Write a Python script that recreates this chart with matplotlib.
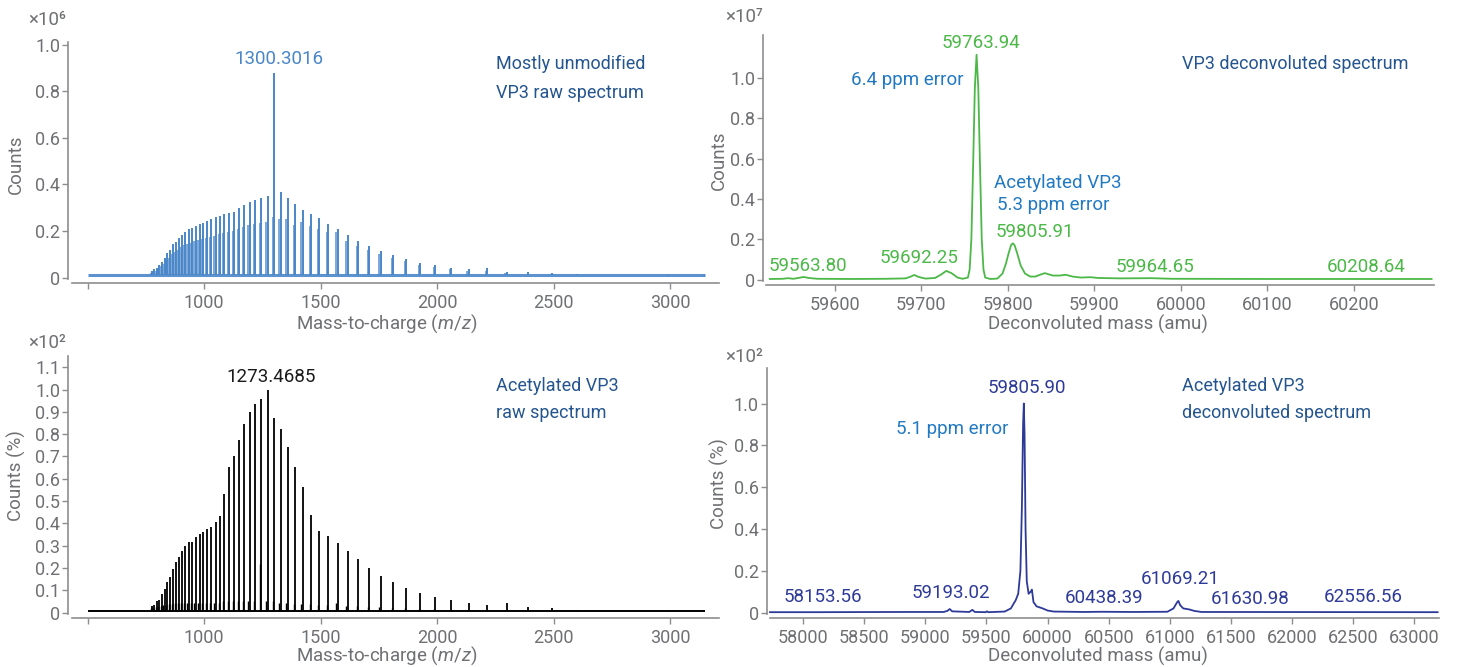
import matplotlib
matplotlib.use("Agg")
import matplotlib.pyplot as plt
import matplotlib.ticker as ticker

plt.rcParams.update({
    "font.family": ["Roboto", "DejaVu Sans"],
    "mathtext.fontset": "custom",
    "mathtext.rm": "Roboto",
    "mathtext.it": "Roboto:italic",
    "axes.spines.top": False,
    "axes.spines.right": False,
})

GREY = "#6f7073"
SPINE = "#8e8e90"
BLUE_LINE = "#4a86c8"
GREEN = "#4cb848"
NAVY = "#2e3a98"
NOTE_DARK = "#24558f"
NOTE_BLUE = "#2179c2"

# ─── Raw spectra: charge-state envelope (m/z positions, z = 77 ... 19) ──────
peak_mz = [777.2, 787.4, 797.9, 808.6, 819.7, 831.1, 842.7, 854.8, 867.1, 879.9,
           893.0, 906.5, 920.4, 934.8, 949.6, 964.9, 980.7, 997.1, 1014.0, 1031.4,
           1049.5, 1068.2, 1087.6, 1107.7, 1128.6, 1150.3, 1172.8, 1196.3, 1220.7, 1246.1,
           1272.6, 1300.2, 1329.1, 1359.3, 1390.9, 1424.0, 1458.7, 1495.1, 1533.4, 1573.7,
           1616.2, 1661.1, 1708.5, 1758.8, 1812.0, 1868.6, 1928.9, 1993.1, 2061.8, 2135.4,
           2214.5, 2299.6, 2391.6, 2491.2, 2599.4, 2717.5, 2846.9, 2989.2, 3146.5]

# mostly unmodified VP3 (x10^6 counts)
raw_top = [0.030, 0.035, 0.043, 0.054, 0.068, 0.083, 0.104, 0.118, 0.143, 0.154,
           0.171, 0.183, 0.197, 0.207, 0.211, 0.221, 0.230, 0.236, 0.244, 0.251,
           0.261, 0.264, 0.273, 0.276, 0.283, 0.300, 0.310, 0.326, 0.333, 0.340,
           0.350, 0.880, 0.366, 0.343, 0.314, 0.290, 0.273, 0.254, 0.232, 0.210,
           0.184, 0.155, 0.134, 0.112, 0.095, 0.078, 0.064, 0.052, 0.042, 0.035,
           0.042, 0.026, 0.022, 0.018, 0.015, 0.012, 0.010, 0.008, 0.006]

# acetylated VP3 (x10^2 %)
raw_bottom = [0.030, 0.035, 0.050, 0.056, 0.082, 0.106, 0.136, 0.161, 0.194, 0.225,
              0.251, 0.276, 0.299, 0.315, 0.318, 0.340, 0.352, 0.363, 0.375, 0.385,
              0.408, 0.435, 0.530, 0.651, 0.702, 0.774, 0.844, 0.898, 0.934, 0.956,
              1.000, 0.871, 0.822, 0.744, 0.654, 0.565, 0.438, 0.367, 0.343, 0.310,
              0.276, 0.240, 0.198, 0.166, 0.136, 0.109, 0.087, 0.070, 0.055, 0.044,
              0.033, 0.042, 0.025, 0.020, 0.012, 0.009, 0.006, 0.004, 0.003]

# minor series just below each main peak (z = 77 ... 26)
side_mz = [771.2, 781.4, 791.9, 802.6, 813.7, 825.1, 836.7, 848.8, 861.1, 873.9,
           887.0, 900.5, 914.4, 928.8, 943.6, 958.9, 974.7, 991.1, 1008.0, 1025.4,
           1043.5, 1062.2, 1081.6, 1101.7, 1122.6, 1144.3, 1166.8, 1190.3, 1214.7, 1240.1,
           1266.6, 1294.2, 1323.1, 1353.3, 1384.9, 1418.0, 1452.7, 1489.1, 1527.4, 1567.7,
           1610.2, 1655.1, 1702.5, 1752.8, 1806.0, 1862.6, 1922.9, 1987.1, 2055.8, 2129.4,
           2208.5, 2293.6]
side_top = [0.020, 0.025, 0.030, 0.040, 0.050, 0.060, 0.075, 0.085, 0.100, 0.110,
            0.120, 0.130, 0.140, 0.145, 0.150, 0.155, 0.160, 0.165, 0.170, 0.175,
            0.180, 0.185, 0.190, 0.195, 0.200, 0.210, 0.215, 0.225, 0.230, 0.235,
            0.240, 0.260, 0.250, 0.250, 0.226, 0.240, 0.220, 0.210, 0.195, 0.195,
            0.155, 0.135, 0.117, 0.100, 0.083, 0.070, 0.055, 0.047, 0.037, 0.030,
            0.030, 0.020]
side_bottom = [0.020, 0.020, 0.025, 0.030, 0.030, 0.035, 0.035, 0.040, 0.040, 0.045,
               0.045, 0.045, 0.045, 0.045, 0.045, 0.045, 0.045, 0.045, 0.045, 0.045,
               0.045, 0.045, 0.050, 0.050, 0.050, 0.050, 0.050, 0.050, 0.050, 0.220,
               0.050, 0.050, 0.045, 0.045, 0.040, 0.040, 0.040, 0.035, 0.035, 0.045,
               0.030, 0.030, 0.025, 0.025, 0.020, 0.020, 0.015, 0.015, 0.012, 0.010,
               0.010, 0.010]

raw_range = [500, 3150]
base_top = 0.011
base_bottom = 0.006

# ─── Deconvoluted spectra ───────────────────────────────────────────────────
dec_top_mass = [59525, 59540, 59546, 59552, 59558, 59564, 59570, 59580, 59620, 59660,
                59682, 59688, 59692, 59697, 59705, 59716, 59723, 59729, 59735, 59742,
                59748, 59754, 59756, 59758, 59760, 59762, 59764, 59766, 59768, 59770,
                59772, 59774, 59780, 59788, 59794, 59798, 59801, 59804, 59806, 59808,
                59811, 59815, 59820, 59826, 59832, 59836, 59843, 59852, 59860, 59867,
                59875, 59885, 59895, 59905, 59930, 59966, 59990, 60100, 60290]
dec_top_counts = [0.003, 0.004, 0.007, 0.004, 0.008, 0.013, 0.008, 0.004, 0.003, 0.004,
                  0.006, 0.015, 0.023, 0.013, 0.005, 0.008, 0.025, 0.043, 0.032, 0.010,
                  0.004, 0.010, 0.050, 0.200, 0.560, 0.950, 1.115, 0.950, 0.560, 0.200,
                  0.050, 0.010, 0.003, 0.005, 0.030, 0.080, 0.130, 0.172, 0.180, 0.170,
                  0.130, 0.070, 0.030, 0.015, 0.015, 0.022, 0.032, 0.020, 0.020, 0.024,
                  0.015, 0.010, 0.012, 0.008, 0.006, 0.007, 0.004, 0.003, 0.003]

dec_bot_mass = [57730, 58100, 58800, 59150, 59180, 59200, 59220, 59360, 59385, 59405,
                59495, 59505, 59515, 59650, 59700, 59740, 59760, 59778, 59790, 59800,
                59806, 59812, 59820, 59830, 59845, 59862, 59872, 59885, 59910, 59960,
                60000, 60050, 60300, 60440, 60700, 60980, 61030, 61060, 61070, 61085,
                61110, 61160, 61200, 61260, 63190]
dec_bot_counts = [0.002, 0.002, 0.003, 0.003, 0.008, 0.017, 0.006, 0.003, 0.013, 0.003,
                  0.002, 0.006, 0.002, 0.005, 0.020, 0.060, 0.090, 0.200, 0.500, 0.900,
                  1.000, 0.850, 0.400, 0.150, 0.090, 0.100, 0.110, 0.050, 0.030, 0.020,
                  0.010, 0.005, 0.003, 0.004, 0.003, 0.004, 0.020, 0.050, 0.056, 0.035,
                  0.020, 0.015, 0.008, 0.003, 0.002]

# peak labels: (text, x, y)
top_dec_labels = [("59563.80", 59568.8, 0.067), ("59692.25", 59696.9, 0.105),
                  ("59763.94", 59769.6, 1.171), ("59805.91", 59831.6, 0.236),
                  ("59964.65", 59970.3, 0.062), ("60208.64", 60214.2, 0.060)]
bot_dec_labels = [("58153.56", 58163.6, 0.077), ("59193.02", 59210.3, 0.096),
                  ("59805.90", 59828.6, 1.076), ("60438.39", 60460.0, 0.072),
                  ("61069.21", 61088.0, 0.163), ("61630.98", 61655.6, 0.067),
                  ("62556.56", 62579.6, 0.077)]


def fmt_tick(v, pos):
    return "0" if abs(v) < 1e-9 else f"{v:.1f}"


def style_axes(ax, yticks, xticks, xlabels=None, xstart=None):
    for side in ("left", "bottom"):
        ax.spines[side].set_color(SPINE)
        ax.spines[side].set_linewidth(1.2)
    ax.spines["bottom"].set_position(("outward", 3))
    if xstart is not None:
        ax.spines["bottom"].set_bounds(xstart, ax.get_xlim()[1])
    ax.set_yticks(yticks)
    ax.yaxis.set_major_formatter(ticker.FuncFormatter(fmt_tick))
    ax.set_xticks(xticks)
    if xlabels is not None:
        ax.set_xticklabels(xlabels)
    ax.tick_params(colors=SPINE, labelcolor=GREY, labelsize=13, length=4,
                   width=1.0, direction="out", pad=2)
    ax.tick_params(axis="x", pad=4)


fig = plt.figure(figsize=(14.6, 6.67), dpi=100)
W, H = 1460.0, 667.0


def add_axes(left, top, right, bottom):
    return fig.add_axes([left / W, 1 - bottom / H, (right - left) / W, (bottom - top) / H])


def ftext(x, y, s, **kw):
    fig.text(x / W, 1 - y / H, s, **kw)


# ─── top-left: raw spectrum, mostly unmodified ──────────────────────────────
ax = add_axes(68.4, 42, 719, 278.6)
ax.plot(raw_range, [base_top, base_top], color=BLUE_LINE, lw=2.2, alpha=0.9,
        solid_capstyle="butt")
ax.vlines(side_mz, base_top, side_top, color=BLUE_LINE, lw=1.2, alpha=0.85)
ax.vlines(peak_mz, base_top, raw_top, color=BLUE_LINE, lw=1.4)
ax.set_xlim(418, 3210)
ax.set_ylim(-0.0043, 1.011)
style_axes(ax, [0, 0.2, 0.4, 0.6, 0.8, 1.0], [500, 1000, 1500, 2000, 2500, 3000],
           ["", "1000", "1500", "2000", "2500", "3000"], xstart=433)
ax.text(1322, 0.94, "1300.3016", color=BLUE_LINE, fontsize=13.5, ha="center", va="center")
ax.text(2253, 0.915, "Mostly unmodified", color=NOTE_DARK, fontsize=13, va="center")
ax.text(2253, 0.794, "VP3 raw spectrum", color=NOTE_DARK, fontsize=13, va="center")

# ─── top-right: deconvoluted ───────────────────────────────────────────────
ax = add_axes(763.5, 35, 1434, 281)
ax.plot(dec_top_mass, dec_top_counts, color=GREEN, lw=1.3)
ax.set_xlim(59517.7, 60292.8)
ax.set_ylim(-0.007, 1.213)
style_axes(ax, [0, 0.2, 0.4, 0.6, 0.8, 1.0], [59600, 59700, 59800, 59900, 60000, 60100, 60200],
           xstart=59520.6)
for s, x, y in top_dec_labels:
    ax.text(x, y, s, color=GREEN, fontsize=13.5, ha="center", va="center")
ax.text(59683.6, 0.99, "6.4 ppm error", color=NOTE_BLUE, fontsize=13.5, ha="center", va="center")
ax.text(59858, 0.479, "Acetylated VP3", color=NOTE_BLUE, fontsize=13.5, ha="center", va="center")
ax.text(59853, 0.372, "5.3 ppm error", color=NOTE_BLUE, fontsize=13.5, ha="center", va="center")
ax.text(60001, 1.067, "VP3 deconvoluted spectrum", color=NOTE_DARK, fontsize=13, va="center")

# ─── bottom-left: raw spectrum, acetylated ─────────────────────────────────
ax = add_axes(68.4, 355.7, 719, 613.6)
ax.plot(raw_range, [base_bottom, base_bottom], color="black", lw=1.4,
        solid_capstyle="butt")
ax.vlines(side_mz, base_bottom, side_bottom, color="black", lw=1.0)
ax.vlines(peak_mz, base_bottom, raw_bottom, color="black", lw=1.3)
ax.set_xlim(418, 3210)
ax.set_ylim(-0.0045, 1.152)
style_axes(ax, [0, 0.1, 0.2, 0.3, 0.4, 0.5, 0.6, 0.7, 0.8, 0.9, 1.0, 1.1],
           [500, 1000, 1500, 2000, 2500, 3000],
           ["", "1000", "1500", "2000", "2500", "3000"], xstart=433)
ax.text(1289, 1.057, "1273.4685", color="#1a1a1a", fontsize=13.5, ha="center", va="center")
ax.text(2252, 1.017, "Acetylated VP3", color=NOTE_DARK, fontsize=13, va="center")
ax.text(2252, 0.897, "raw spectrum", color=NOTE_DARK, fontsize=13, va="center")

# ─── bottom-right: deconvoluted, acetylated ────────────────────────────────
ax = add_axes(767, 368.4, 1438.6, 614)
ax.plot(dec_bot_mass, dec_bot_counts, color=NAVY, lw=1.3)
ax.set_xlim(57705.6, 63198)
ax.set_ylim(-0.0067, 1.168)
style_axes(ax, [0, 0.2, 0.4, 0.6, 0.8, 1.0],
           [58000, 58500, 59000, 59500, 60000, 60500, 61000, 61500, 62000, 62500, 63000],
           xstart=57727)
for s, x, y in bot_dec_labels:
    ax.text(x, y, s, color=NAVY, fontsize=13.5, ha="center", va="center")
ax.text(59218.5, 0.877, "5.1 ppm error", color=NOTE_BLUE, fontsize=13.5, ha="center", va="center")
ax.text(61096, 1.085, "Acetylated VP3", color=NOTE_DARK, fontsize=13, va="center")
ax.text(61096, 0.957, "deconvoluted spectrum", color=NOTE_DARK, fontsize=13, va="center")

# ─── shared labels ─────────────────────────────────────────────────────────
lab = dict(color=GREY, fontsize=13.5, ha="center", va="center")
ftext(16, 164, "Counts", rotation=90, **lab)
ftext(719, 160, "Counts", rotation=90, **lab)
ftext(16, 476, "Counts (%)", rotation=90, **lab)
ftext(719, 484, "Counts (%)", rotation=90, **lab)
ftext(387, 324, "Mass-to-charge ($m/z$)", **lab)
ftext(387, 656, "Mass-to-charge ($m/z$)", **lab)
ftext(1098, 324, "Deconvoluted mass (amu)", **lab)
ftext(1098, 656, "Deconvoluted mass (amu)", **lab)

exp = dict(color=GREY, fontsize=13.5, ha="right", va="center")
ftext(66, 20, "×10⁶", **exp)
ftext(763, 17, "×10⁷", **exp)
ftext(66, 343, "×10²", **exp)
ftext(763, 357, "×10²", **exp)

fig.savefig("out.png", dpi=100)
